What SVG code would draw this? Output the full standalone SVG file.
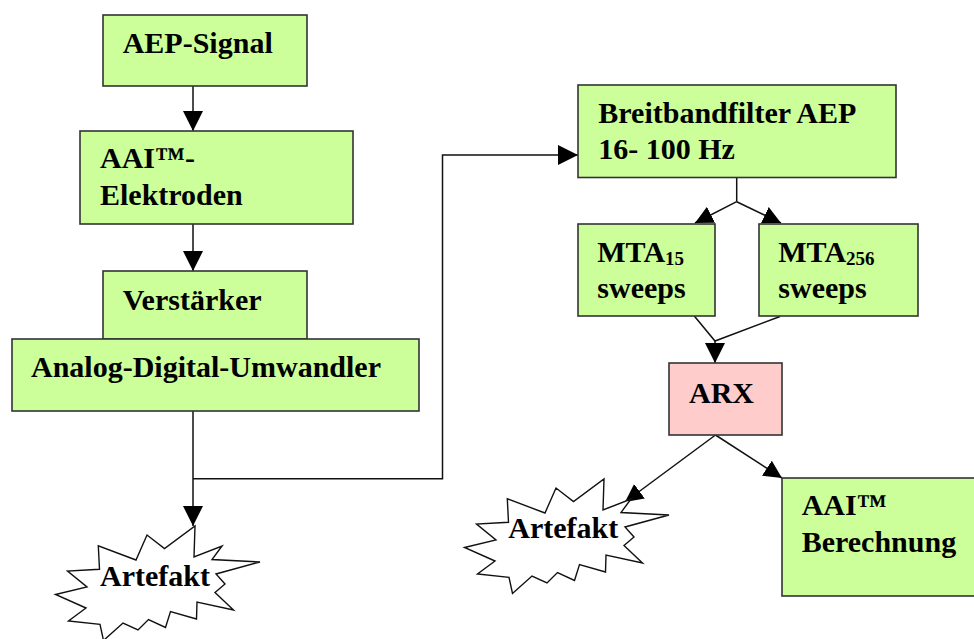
<svg xmlns="http://www.w3.org/2000/svg" xmlns:xlink="http://www.w3.org/1999/xlink" width="974" height="639" viewBox="0 0 974 639">
<style>
.box{fill:#CCFF99;stroke:#333;stroke-width:1.6}
.pink{fill:#FFCCCC;stroke:#333;stroke-width:1.6}
.burst{fill:#fff;stroke:#111;stroke-width:1.4;stroke-linejoin:miter}
.t{font-family:"Liberation Serif","Times New Roman",serif;font-weight:bold;font-size:30px;fill:#000}
.sub{font-size:19px}
.c{fill:none;stroke:#111;stroke-width:1.5}
.cs{marker-end:url(#arr)}
.cd{marker-end:url(#arrs)}
</style>
<defs>
<marker id="arr" markerUnits="userSpaceOnUse" markerWidth="20" markerHeight="20" refX="20" refY="10" orient="auto">
<path d="M0,0 L20,10 L0,20 z" fill="#000"/>
</marker>
<marker id="arrs" markerUnits="userSpaceOnUse" markerWidth="18" markerHeight="18" refX="18" refY="9" orient="auto">
<path d="M0,0 L18,9 L0,18 z" fill="#000"/>
</marker>
<path id="burstShape" d="M0,0 L-1,31 L27,20 L17,33.5 L65,36 L21,48 L30,58 L20,66.5 L38.5,84 L2,76 L1.5,93 L-24.5,85.5 L-29.5,101.5 L-46.5,93.5 L-57,104 L-72,97 L-91.5,114.5 L-95,98.3 L-126.5,95 L-109,82 L-139.5,68.5 L-108,61 L-127.5,45 L-95.5,43.3 L-96.7,19.8 L-59,34 L-48,9 L-30.5,22.5 Z"/>
</defs>
<rect width="974" height="639" fill="#fff"/>
<g id="connectors">
<path class="c cs" d="M193,86 V131"/>
<path class="c cs" d="M193,224 V271"/>
<path class="c cs" d="M193,411 V526"/>
<path class="c cs" d="M193,478.7 H442.5 V155 H578"/>
<path class="c" d="M736.7,177.5 V201.7"/>
<path class="c cd" d="M736.7,201.7 L695,223"/>
<path class="c cd" d="M736.7,201.7 L781,223"/>
<path class="c" d="M694.3,316 L715,341 L780,316.5"/>
<path class="c cs" d="M715,341 V363"/>
<path class="c cd" d="M715.5,435 L625,502"/>
<path class="c cd" d="M715.5,435 L782,478"/>
</g>
<g id="aep-signal">
<rect class="box" x="103" y="15" width="204" height="71"/>
<text class="t" x="122.7" y="53.3">AEP-Signal</text>
</g>
<g id="aai-elektroden">
<rect class="box" x="80" y="131" width="273" height="93"/>
<text class="t" x="100" y="168">AAI™-</text>
<text class="t" x="100" y="205">Elektroden</text>
</g>
<g id="verstaerker">
<rect class="box" x="103" y="271" width="204" height="68"/>
<text class="t" x="122.7" y="310">Verstärker</text>
</g>
<g id="adc">
<rect class="box" x="12" y="339" width="407" height="72"/>
<text class="t" x="31" y="377.3">Analog-Digital-Umwandler</text>
</g>
<g id="artefakt-left">
<use xlink:href="#burstShape" class="burst" transform="translate(195,526)"/>
<text class="t" x="100" y="586">Artefakt</text>
</g>
<g id="breitbandfilter">
<rect class="box" x="578" y="85" width="318" height="92.5"/>
<text class="t" x="598.3" y="123.3">Breitbandfilter AEP</text>
<text class="t" x="598.3" y="159.3">16- 100 Hz</text>
</g>
<g id="mta15">
<rect class="box" x="578" y="224" width="137" height="92"/>
<text class="t" x="597.3" y="261.7">MTA<tspan class="sub" dy="3">15</tspan></text>
<text class="t" x="597.3" y="298.3">sweeps</text>
</g>
<g id="mta256">
<rect class="box" x="759" y="224" width="159" height="92"/>
<text class="t" x="778.3" y="261.7">MTA<tspan class="sub" dy="3">256</tspan></text>
<text class="t" x="778.3" y="298.3">sweeps</text>
</g>
<g id="arx">
<rect class="pink" x="669" y="363" width="113" height="72"/>
<text class="t" x="689" y="403">ARX</text>
</g>
<g id="artefakt-right">
<use xlink:href="#burstShape" class="burst" transform="translate(604,479)"/>
<text class="t" x="508.3" y="538.3">Artefakt</text>
</g>
<g id="aai-berechnung">
<rect class="box" x="782" y="478" width="200" height="118"/>
<text class="t" x="801.7" y="515">AAI™</text>
<text class="t" x="801.7" y="551.7">Berechnung</text>
</g>
</svg>
